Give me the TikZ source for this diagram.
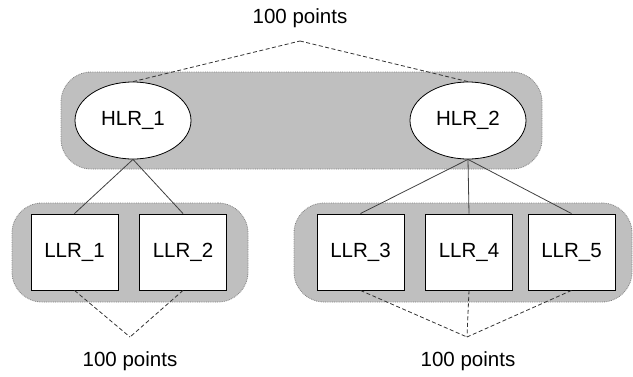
\documentclass[tikz,border=0pt]{standalone}
\usepackage{fontspec}
\setmainfont{Liberation Sans}
\usetikzlibrary{shapes.geometric}

\begin{document}
\begin{tikzpicture}[x=1pt,y=-1pt,
  font=\fontsize{20.5}{24}\selectfont,
  band/.style={draw=black!50, densely dotted, line width=0.8pt, fill=black!25, rounded corners=30pt, inner sep=0pt},
  hlr/.style={draw, ellipse, fill=white, line width=0.8pt, minimum width=116pt, minimum height=77pt, inner sep=0pt},
  llr/.style={draw, fill=white, line width=0.9pt, minimum width=87pt, minimum height=76pt, inner sep=0pt},
  link/.style={draw=black!75, line width=0.8pt},
  share/.style={draw=black!80, dash pattern=on 4pt off 2.5pt, line width=0.8pt}]
\useasboundingbox (0,0) rectangle (633,376);

   % groups
   \node[band, minimum width=481pt, minimum height=97pt] (grp_h) at (301.5,120.5) {};
   \node[band, minimum width=236pt, minimum height=99pt] (grp_l1) at (130,252.5) {};
   \node[band, minimum width=338pt, minimum height=99pt] (grp_l2) at (463,252.5) {};

   \node[hlr] (hlr_1) at (133,120.5) {HLR\_1};
   \node[hlr] (hlr_2) at (468,120.5) {HLR\_2};

   \node[llr] (llr_1) at (74.5,252) {LLR\_1};
   \node[llr] (llr_2) at (183,252) {LLR\_2};
   \node[llr] (llr_3) at (360.5,252) {LLR\_3};
   \node[llr] (llr_4) at (469,252) {LLR\_4};
   \node[llr] (llr_5) at (571.5,252) {LLR\_5};

   \path[link] (hlr_1.south) to (llr_1.north);
   \path[link] (hlr_1.south) to (llr_2.north);
   \path[link] (hlr_2.south) to (llr_3.north);
   \path[link] (hlr_2.south) to (llr_4.north);
   \path[link] (hlr_2.south) to (llr_5.north);

   % points
   \coordinate (pt_0) at (300,41);
   \coordinate (pt_1) at (130,337);
   \coordinate (pt_2) at (467,337);
   \node (lbl_0) at (300,18) {100 points};
   \node (lbl_1) at (130,361) {100 points};
   \node (lbl_2) at (468,361) {100 points};

   \path[share] (hlr_1.north) to (pt_0);
   \path[share] (hlr_2.north) to (pt_0);
   \path[share] (llr_1.south) to (pt_1);
   \path[share] (llr_2.south) to (pt_1);
   \path[share] (llr_3.south) to (pt_2);
   \path[share] (llr_4.south) to (pt_2);
   \path[share] (llr_5.south) to (pt_2);

\end{tikzpicture}
\end{document}
